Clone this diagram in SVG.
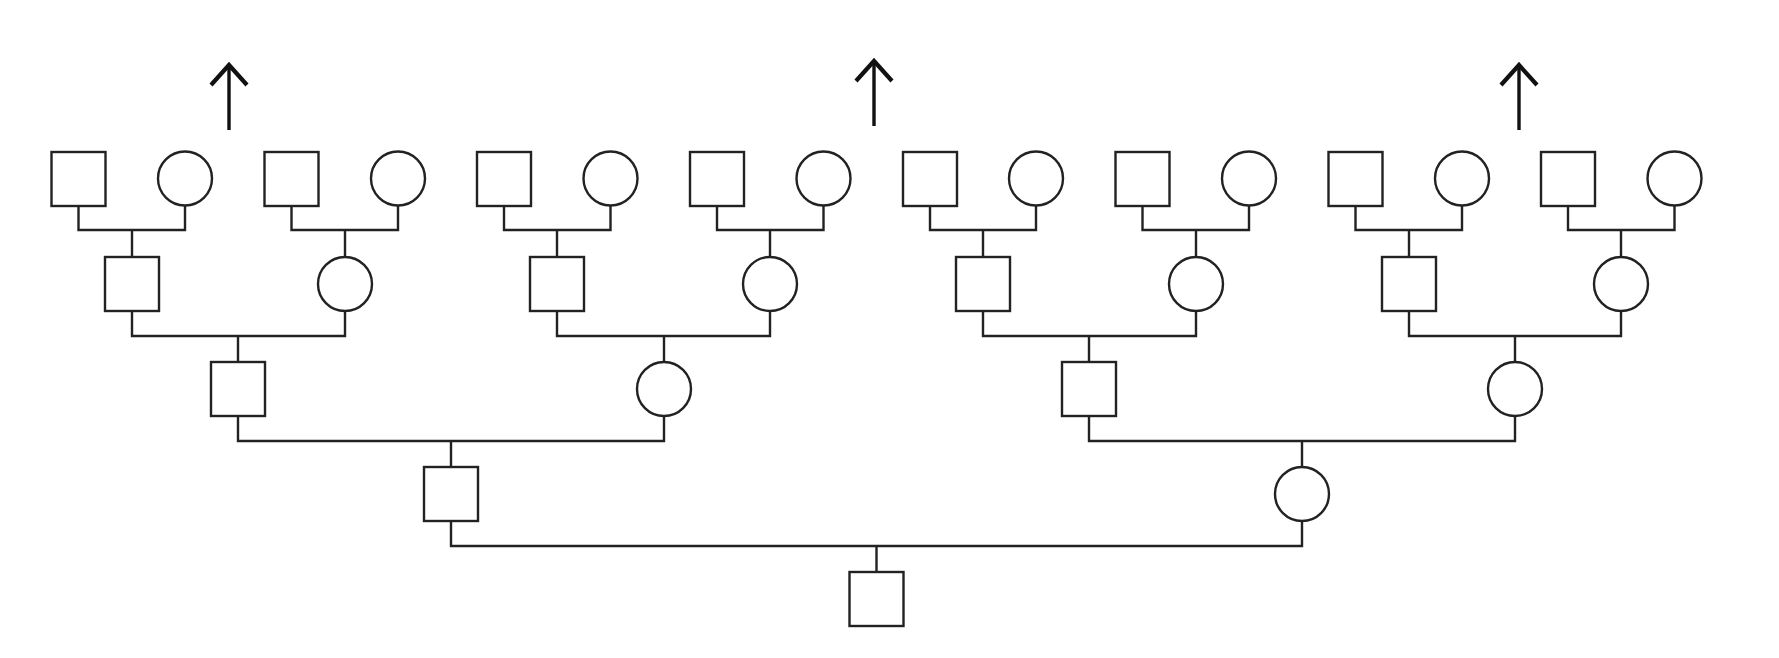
<svg xmlns="http://www.w3.org/2000/svg" width="1779" height="658" viewBox="0 0 1779 658">
<style>
.n{fill:#fff;stroke:#222;stroke-width:2.4}
.c{fill:none;stroke:#222;stroke-width:2.4;stroke-linecap:square}
.a{fill:none;stroke:#111;stroke-width:3.4}
.h{fill:none;stroke:#111;stroke-width:4.2;stroke-linejoin:miter;stroke-miterlimit:10}
</style>
<rect width="1779" height="658" fill="#fff"/>
<g id="connectors" class="c">
<path d="M78.5,206V230H185V205M132,230V257"/>
<path d="M291.5,206V230H398V205M345,230V257"/>
<path d="M504,206V230H610.5V205M557,230V257"/>
<path d="M717,206V230H823.5V205M770,230V257"/>
<path d="M930,206V230H1036V205M983,230V257"/>
<path d="M1142.5,206V230H1249V205M1196,230V257"/>
<path d="M1355.5,206V230H1462V205M1409,230V257"/>
<path d="M1568,206V230H1674.5V205M1621,230V257"/>
<path d="M132,311V336H345V311M238,336V362"/>
<path d="M557,311V336H770V311M664,336V362"/>
<path d="M983,311V336H1196V311M1089,336V362"/>
<path d="M1409,311V336H1621V311M1515,336V362"/>
<path d="M238,416V441H664V416M451,441V467"/>
<path d="M1089,416V441H1515V416M1302,441V467"/>
<path d="M451,521V546H1302V521M876.5,546V572"/>
</g>
<g id="arrows">
<g id="arrow1"><path class="a" d="M229,130V66"/><path class="h" d="M211,85L229,65L247,85"/></g>
<g id="arrow2"><path class="a" d="M874,126V62"/><path class="h" d="M856,81L874,61L892,81"/></g>
<g id="arrow3"><path class="a" d="M1519,130V66"/><path class="h" d="M1501,85L1519,65L1537,85"/></g>
</g>
<g id="gen1">
<g id="g1-1"><rect class="n" x="51.5" y="152" width="54" height="54"/></g>
<g id="g1-2"><circle class="n" cx="185" cy="178.5" r="27"/></g>
<g id="g1-3"><rect class="n" x="264.5" y="152" width="54" height="54"/></g>
<g id="g1-4"><circle class="n" cx="398" cy="178.5" r="27"/></g>
<g id="g1-5"><rect class="n" x="477" y="152" width="54" height="54"/></g>
<g id="g1-6"><circle class="n" cx="610.5" cy="178.5" r="27"/></g>
<g id="g1-7"><rect class="n" x="690" y="152" width="54" height="54"/></g>
<g id="g1-8"><circle class="n" cx="823.5" cy="178.5" r="27"/></g>
<g id="g1-9"><rect class="n" x="903" y="152" width="54" height="54"/></g>
<g id="g1-10"><circle class="n" cx="1036" cy="178.5" r="27"/></g>
<g id="g1-11"><rect class="n" x="1115.5" y="152" width="54" height="54"/></g>
<g id="g1-12"><circle class="n" cx="1249" cy="178.5" r="27"/></g>
<g id="g1-13"><rect class="n" x="1328.5" y="152" width="54" height="54"/></g>
<g id="g1-14"><circle class="n" cx="1462" cy="178.5" r="27"/></g>
<g id="g1-15"><rect class="n" x="1541" y="152" width="54" height="54"/></g>
<g id="g1-16"><circle class="n" cx="1674.5" cy="178.5" r="27"/></g>
</g>
<g id="gen2">
<g id="g2-1"><rect class="n" x="105" y="257" width="54" height="54"/></g>
<g id="g2-2"><circle class="n" cx="345" cy="284" r="27"/></g>
<g id="g2-3"><rect class="n" x="530" y="257" width="54" height="54"/></g>
<g id="g2-4"><circle class="n" cx="770" cy="284" r="27"/></g>
<g id="g2-5"><rect class="n" x="956" y="257" width="54" height="54"/></g>
<g id="g2-6"><circle class="n" cx="1196" cy="284" r="27"/></g>
<g id="g2-7"><rect class="n" x="1382" y="257" width="54" height="54"/></g>
<g id="g2-8"><circle class="n" cx="1621" cy="284" r="27"/></g>
</g>
<g id="gen3">
<g id="g3-1"><rect class="n" x="211" y="362" width="54" height="54"/></g>
<g id="g3-2"><circle class="n" cx="664" cy="389" r="27"/></g>
<g id="g3-3"><rect class="n" x="1062" y="362" width="54" height="54"/></g>
<g id="g3-4"><circle class="n" cx="1515" cy="389" r="27"/></g>
</g>
<g id="gen4">
<g id="g4-1"><rect class="n" x="424" y="467" width="54" height="54"/></g>
<g id="g4-2"><circle class="n" cx="1302" cy="494" r="27"/></g>
</g>
<g id="gen5">
<g id="g5-1"><rect class="n" x="849.5" y="572" width="54" height="54"/></g>
</g>
</svg>
